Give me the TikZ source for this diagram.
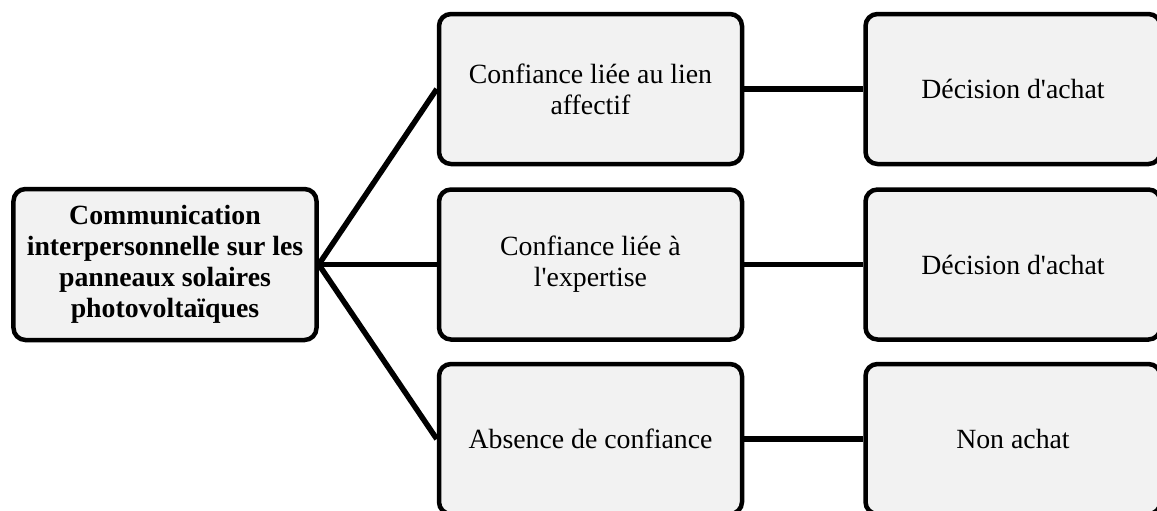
\documentclass[tikz,border=0pt]{standalone}
\usepackage{fontspec}
\setmainfont{Liberation Serif}
\usepackage{tikz}
\usetikzlibrary{positioning}
\definecolor{boxGray}{HTML}{F2F2F2}

\begin{document}
\begin{tikzpicture} [node distance = 59pt]
            % Box styles
            \tikzset{
                sourceNode/.style={
                        draw,
                        rectangle,
                        rounded corners=6pt,
                        line width=2.25pt,
                        fill=boxGray,
                        align=center,
                        font=\fontsize{13.9}{15.6}\selectfont\bfseries,
                        minimum width=151.5pt,
                        minimum height=75.5pt
                    }
            }
            \tikzset{
                trustNode/.style={
                        draw,
                        rectangle,
                        rounded corners=6pt,
                        line width=2.25pt,
                        fill=boxGray,
                        align=center,
                        font=\fontsize{13.9}{15.6}\selectfont,
                        minimum width=151.5pt,
                        minimum height=75pt
                    }
            }
            \tikzset{
                outcomeNode/.style={
                        draw,
                        rectangle,
                        rounded corners=6pt,
                        line width=2.25pt,
                        fill=boxGray,
                        align=center,
                        font=\fontsize{13.9}{15.6}\selectfont,
                        minimum width=147.5pt,
                        minimum height=75pt
                    }
            }
            \tikzset{
                link/.style={
                        line width=2.75pt
                    }
            }
            % Visible frame
            \clip (-82.5pt,-122.75pt) rectangle (496pt,132.25pt);
            % Placing boxes
            \node[sourceNode](comm){Communication\\interpersonnelle sur les\\panneaux solaires\\photovolta\"iques};
            \node[trustNode, right = of comm](expert){Confiance li\'ee \`a\\l\textquotesingle expertise};
            \node[trustNode, above = 10.5pt of expert](affect){Confiance li\'ee au lien\\affectif};
            \node[trustNode, below = 10pt of expert](absence){Absence de confiance};
            \node[outcomeNode, right = 59.5pt of affect](achat1){D\'ecision d\textquotesingle achat};
            \node[outcomeNode, right = 59.5pt of expert](achat2){D\'ecision d\textquotesingle achat};
            \node[outcomeNode, right = 59.5pt of absence](nonachat){Non achat};
            % Placing lines
            \draw[link](comm.east) -- (affect.west);
            \draw[link](comm.east) -- (expert.west);
            \draw[link](comm.east) -- (absence.west);
            \draw[link](affect) -- (achat1);
            \draw[link](expert) -- (achat2);
            \draw[link](absence) -- (nonachat);
        \end{tikzpicture}
\end{document}
